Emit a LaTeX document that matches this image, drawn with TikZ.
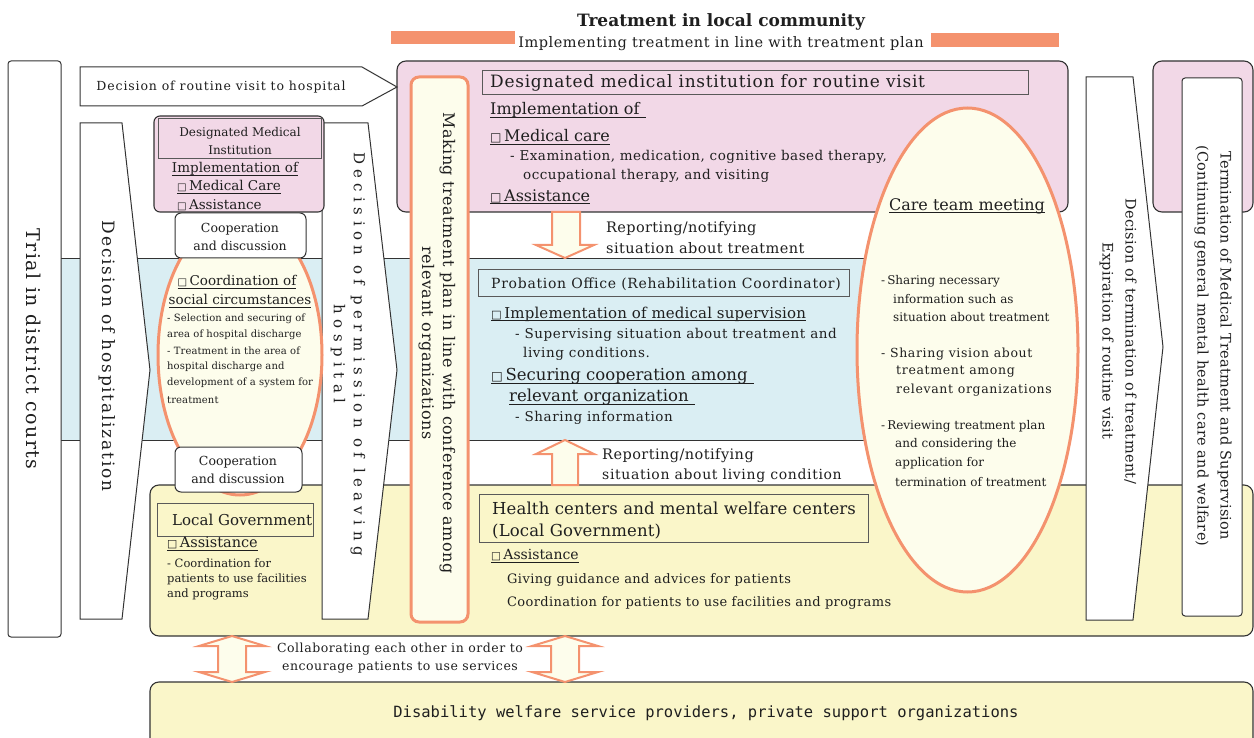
\documentclass[tikz,border=0pt]{standalone}
\usepackage{fontspec}
\setmainfont{DejaVu Serif}
\newfontfamily\symf{DejaVu Sans}
\newfontfamily\monof{DejaVu Sans Mono}
\newcommand\fz[2]{\fontsize{#1}{#2}\selectfont}
\newcommand\sq{{\symf\scalebox{0.75}{□}}\,}
\newsavebox\ulbox
\newcommand\ulx[1]{\sbox\ulbox{#1}\rlap{\rule[-0.2em]{\wd\ulbox}{0.065em}}\usebox\ulbox}
\newcommand\lsp[1]{\addfontfeatures{LetterSpace=#1}}
\definecolor{pinkf}{HTML}{F2D8E7}
\definecolor{bluef}{HTML}{DAEEF3}
\definecolor{yellf}{HTML}{FAF6C9}
\definecolor{creamf}{HTML}{FDFDEC}
\definecolor{orng}{HTML}{F4926E}
\begin{document}
\begin{tikzpicture}[x=1pt,y=-1pt,
  txt/.style={inner sep=0pt, text=black!88},
  lw/.style={txt, anchor=west},
  band/.style={draw=black!80, line width=1.1pt, rounded corners=9pt},
  wshape/.style={draw=black!80, fill=white, line width=1pt, line join=miter},
  tbox/.style={draw=black!65, line width=1pt},
  obord/.style={draw=orng, line width=3pt, fill=creamf},
  barrow/.style={draw=orng, fill=creamf, line width=2pt, line join=miter}]
\useasboundingbox (0,0) rectangle (1254,738);

% ---- backgrounds
\fill[bluef] (61,259) rectangle (880,440);
\draw[black!80, line width=1pt] (61,259) -- (880,259) (61,440) -- (880,440);
\draw[band, fill=yellf] (150,485) rectangle (1253,636);
\draw[band, fill=yellf] (150,682) rectangle (1253,760);
\draw[band, fill=pinkf] (397,61) rectangle (1068,212);
\draw[band, fill=pinkf] (1153,61) rectangle (1253,212);

% ---- title
\fill[orng] (391,31) rectangle (515,44);
\fill[orng] (931,33) rectangle (1059,47);
\node[txt, font=\bfseries\fz{17}{20}] (title) at (721,22) {Treatment in local community};
\node[txt, font=\fz{14.5}{17}\lsp{3.7}] (subtitle) at (721,44) {Implementing treatment in line with treatment plan};

% ---- white arrow shapes and columns
\draw[wshape, rounded corners=3pt] (8,61) rectangle (61,637);
\node[txt, rotate=-90, font=\fz{19}{22}\lsp{7.8}] (trial) at (34,349) {Trial in district courts};

\draw[wshape] (80,67) -- (362,67) -- (397,87) -- (362,106) -- (80,106) -- cycle;
\node[txt, font=\fz{12.5}{15}\lsp{7}] (routine) at (221,87) {Decision of routine visit to hospital};

\draw[wshape] (80,123) -- (122,123) -- (150,370) -- (122,619) -- (80,619) -- cycle;
\node[txt, rotate=-90, font=\fz{17}{20}\lsp{10.4}] (hosp) at (107,356) {Decision of hospitalization};

\draw[wshape] (322,123) -- (368,123) -- (397,370) -- (368,619) -- (322,619) -- cycle;
\node[txt, rotate=-90, align=center, font=\fz{15}{20}\lsp{36}] (perm) at (348,354) {Decision of permission of leaving\\hospital};

\draw[wshape] (1086,77) -- (1133,77) -- (1163,347) -- (1133,620) -- (1086,620) -- cycle;
\node[txt, rotate=-90, align=center, font=\fz{14.5}{23}\lsp{2.5}] (termdec) at (1118,341) {Decision of termination of treatment/\\Expiration of routine visit};

\draw[wshape, rounded corners=3pt] (1182,78) rectangle (1242,616);
\node[txt, rotate=-90, align=center, font=\fz{14.5}{23}\lsp{2}] (term) at (1213,346) {Termination of Medical Treatment and Supervision\\(Continuing general mental health care and welfare)};

% ---- left column
\draw[obord] (240,355) ellipse [x radius=82pt, y radius=140pt];
\draw[band, fill=pinkf, rounded corners=6pt] (154,116) rectangle (324,212);
\draw[tbox] (158,119) rectangle (321,159);
\node[txt, align=center, font=\fz{12}{18}] (dmi) at (240,141) {Designated Medical\\Institution};
\node[txt, font=\fz{13.5}{16}] (dmiimpl) at (235,169) {\ulx{Implementation of}};
\node[lw, font=\fz{13.5}{16}] (dmimc) at (177,187) {\ulx{\sq Medical Care}};
\node[lw, font=\fz{13.5}{16}] (dmias) at (177,205) {\sq Assistance};

\draw[wshape, rounded corners=6pt] (175,213) rectangle (306,258);
\node[txt, align=center, font=\fz{12.5}{18}] (coop1) at (240,237) {Cooperation\\and discussion};

\node[txt, font=\fz{13.5}{16}] (coord1) at (237,282) {\ulx{\sq Coordination of}};
\node[txt, font=\fz{13.5}{16}] (coord2) at (240,301) {\ulx{social circumstances}};
\node[lw, font=\fz{10}{12}\lsp{1}] (cs1) at (167,319) {- Selection and securing of};
\node[lw, font=\fz{10}{12}\lsp{1}] (cs2) at (167,335) {area of hospital discharge};
\node[lw, font=\fz{10}{12}\lsp{1}] (cs3) at (167,351) {- Treatment in the area of};
\node[lw, font=\fz{10}{12}\lsp{1}] (cs4) at (167,367) {hospital discharge and};
\node[lw, font=\fz{10}{12}\lsp{1}] (cs5) at (167,383) {development of a system for};
\node[lw, font=\fz{10}{12}\lsp{1}] (cs6) at (167,400) {treatment};

\draw[wshape, rounded corners=6pt] (175,447) rectangle (302,492);
\node[txt, align=center, font=\fz{12.5}{18}] (coop2) at (238,470) {Cooperation\\and discussion};

\draw[tbox] (157,503) rectangle (313,536);
\node[lw, font=\fz{15}{18}] (lg) at (172,520) {Local Government};
\node[lw, font=\fz{14.5}{17}] (lgas) at (167,544) {\ulx{\sq Assistance}};
\node[lw, font=\fz{11.5}{14}] (lg1) at (167,563) {- Coordination for};
\node[lw, font=\fz{11.5}{14}] (lg2) at (167,579) {patients to use facilities};
\node[lw, font=\fz{11.5}{14}] (lg3) at (167,594) {and programs};

% ---- making treatment plan column
\draw[obord, rounded corners=8pt] (411,77) rectangle (468,622);
\node[txt, rotate=-90, align=center, font=\fz{16}{21}\lsp{3.3}] (making) at (437,343) {Making treatment plan in line with conference among\\relevant organizations};

% ---- care team ellipse
\draw[obord] (967.5,350) ellipse [x radius=110.5pt, y radius=242pt];
\node[txt, font=\fz{16}{19}] (care) at (967,206) {\ulx{Care team meeting}};
\node[lw, font=\fz{12}{14}] (c1) at (881,281) {-\,Sharing necessary};
\node[lw, font=\fz{12}{14}] (c2) at (893,299) {information such as};
\node[lw, font=\fz{12}{14}] (c3) at (893,317) {situation about treatment};
\node[lw, font=\fz{12.5}{14}\lsp{5.3}] (c4) at (881,354) {- Sharing vision about};
\node[lw, font=\fz{12.5}{14}\lsp{5.3}] (c5) at (896,372) {treatment among};
\node[lw, font=\fz{12.5}{14}\lsp{5.3}] (c6) at (896,390) {relevant organizations};
\node[lw, font=\fz{12}{14}] (c7) at (881,426) {-\,Reviewing treatment plan};
\node[lw, font=\fz{12}{14}] (c8) at (895,444) {and considering the};
\node[lw, font=\fz{12}{14}] (c9) at (895,463) {application for};
\node[lw, font=\fz{12}{14}] (c10) at (895,482) {termination of treatment};

% ---- designated medical institution (top)
\draw[tbox] (482,71) rectangle (1028,95);
\node[lw, font=\fz{17}{20}\lsp{4.3}] (dmr) at (490,83) {Designated medical institution for routine visit};
\node[lw, font=\fz{16}{19}] (p1) at (490,110) {\ulx{Implementation of\hspace{6pt}}};
\node[lw, font=\fz{16}{19}] (p2) at (490,137) {\ulx{\sq Medical care}};
\node[lw, font=\fz{13.5}{16}\lsp{3.6}] (p3) at (510,157) {- Examination, medication, cognitive based therapy,};
\node[lw, font=\fz{13.5}{16}\lsp{3.6}] (p4) at (523,176) {occupational therapy, and visiting};
\node[lw, font=\fz{16}{19}] (p5) at (490,197) {\ulx{\sq Assistance}};

% ---- arrow down
\draw[barrow] (552,212) -- (580,212) -- (580,245) -- (594,245) -- (565,258) -- (536,245) -- (552,245) -- cycle;
\node[lw, font=\fz{14.5}{17}\lsp{2.5}] (rep1a) at (606,229) {Reporting/notifying};
\node[lw, font=\fz{14.5}{17}\lsp{3}] (rep1b) at (606,248) {situation about treatment};

% ---- probation office
\draw[tbox] (478,270) rectangle (849,297);
\node[lw, font=\fz{14}{17}\lsp{5}] (prob) at (491,284) {Probation Office (Rehabilitation Coordinator)};
\node[lw, font=\fz{15}{18}\lsp{1}] (pr1) at (491,314) {\ulx{\sq Implementation of medical supervision}};
\node[lw, font=\fz{13.5}{16}\lsp{4.3}] (pr2) at (515,335) {- Supervising situation about treatment and};
\node[lw, font=\fz{13.5}{16}\lsp{4.3}] (pr3) at (523,354) {living conditions.};
\node[lw, font=\fz{16.5}{19}] (pr4) at (491,376) {\ulx{\sq Securing cooperation among\hspace{6pt}}};
\node[lw, font=\fz{16.5}{19}] (pr5) at (509,397) {\ulx{relevant organization\hspace{6pt}}};
\node[lw, font=\fz{13.5}{16}\lsp{4.3}] (pr6) at (515,418) {- Sharing information};

% ---- arrow up
\draw[barrow] (552,485) -- (552,454) -- (536,454) -- (565,440) -- (594,454) -- (578,454) -- (578,485) -- cycle;
\node[lw, font=\fz{14.5}{17}\lsp{3}] (rep2a) at (602,456) {Reporting/notifying};
\node[lw, font=\fz{14}{17}\lsp{4.6}] (rep2b) at (602,476) {situation about living condition};

% ---- health centers
\draw[tbox] (479,494) rectangle (868,542);
\node[lw, font=\fz{16.5}{19}\lsp{0.8}] (hc1) at (492,508) {Health centers and mental welfare centers};
\node[lw, font=\fz{16.5}{19}\lsp{0.8}] (hc2) at (492,532) {(Local Government)};
\node[lw, font=\fz{14}{17}] (hc3) at (491,556) {\ulx{\sq Assistance}};
\node[lw, font=\fz{13}{16}\lsp{3.2}] (hc4) at (507,580) {Giving guidance and advices for patients};
\node[lw, font=\fz{13}{16}\lsp{2.7}] (hc5) at (507,603) {Coordination for patients to use facilities and programs};

% ---- collaborating arrows
\draw[barrow] (232,636) -- (265,646) -- (246,646) -- (246,672) -- (265,672) -- (232,682) -- (199,672) -- (218,672) -- (218,646) -- (199,646) -- cycle;
\draw[barrow] (565,636) -- (598,646) -- (579,646) -- (579,672) -- (598,672) -- (565,682) -- (532,672) -- (551,672) -- (551,646) -- (532,646) -- cycle;
\node[txt, align=center, font=\fz{12.5}{18}\lsp{4.3}] (collab) at (400,658) {Collaborating each other in order to\\encourage patients to use services};

% ---- disability
\node[txt, font=\monof\fz{15.5}{18}] (dis) at (706,713) {Disability welfare service providers, private support organizations};
\end{tikzpicture}
\end{document}
